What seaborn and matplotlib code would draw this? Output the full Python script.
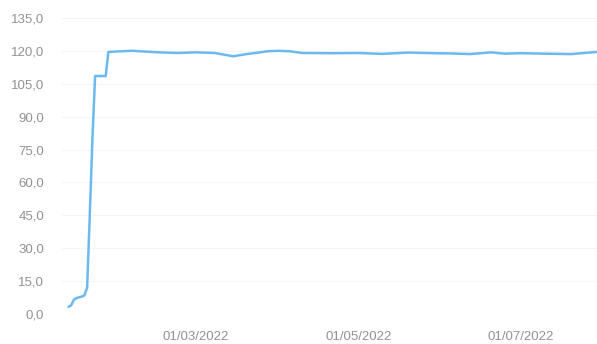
import pandas as pd
import matplotlib
matplotlib.use('Agg')
from matplotlib import pyplot as plt
import matplotlib.dates as mdates
from matplotlib.ticker import FuncFormatter, MultipleLocator
import seaborn as sns

# values
dates = ['2022-01-12', '2022-01-13', '2022-01-14', '2022-01-15', '2022-01-17',
         '2022-01-18', '2022-01-19', '2022-01-20', '2022-01-21', '2022-01-22',
         '2022-01-26', '2022-01-27', '2022-02-05', '2022-02-15', '2022-02-22',
         '2022-03-01', '2022-03-08', '2022-03-15', '2022-03-20', '2022-03-25',
         '2022-03-28', '2022-04-01', '2022-04-05', '2022-04-10', '2022-04-20',
         '2022-05-01', '2022-05-10', '2022-05-20', '2022-05-30', '2022-06-05',
         '2022-06-12', '2022-06-20', '2022-06-25', '2022-07-01', '2022-07-10',
         '2022-07-20', '2022-07-25', '2022-07-30']
values = [3.3, 4.0, 6.5, 7.3, 8.0,
          8.5, 12.0, 45.0, 80.0, 108.5,
          108.5, 119.5, 120.0, 119.3, 119.0,
          119.3, 119.0, 117.5, 118.5, 119.3,
          119.8, 120.0, 119.8, 119.0, 118.9,
          119.0, 118.6, 119.2, 118.9, 118.8,
          118.5, 119.3, 118.7, 118.9, 118.7,
          118.5, 119.0, 119.5]
tick_dates = ['2022-03-01', '2022-05-01', '2022-07-01']

df = pd.DataFrame({'date': pd.to_datetime(dates), 'value': values})

sns.set_style('white')
plt.rcParams['font.family'] = ['Liberation Sans', 'DejaVu Sans']

fig = plt.figure(figsize=(5.97, 3.44), dpi=100)
ax = fig.add_axes([0.104, 0.087, 0.896, 0.861])

sns.lineplot(data=df, x='date', y='value', ax=ax, color='#6cb9ef', linewidth=1.8)

ax.set_ylim(0, 135)
ax.yaxis.set_major_locator(MultipleLocator(15))
ax.yaxis.set_major_formatter(FuncFormatter(lambda v, p: f'{v:.1f}'.replace('.', ',')))
ax.set_xlim(pd.Timestamp('2022-01-09 14:00'), pd.Timestamp('2022-07-29 20:00'))
ax.set_xticks(pd.to_datetime(tick_dates))
ax.xaxis.set_major_formatter(mdates.DateFormatter('%d/%m/%Y'))

# grid is barely visible in the original
ax.grid(axis='y', color='#f5f5f5', linewidth=0.8)
ax.set_axisbelow(True)
for s in ax.spines.values():
    s.set_visible(False)
ax.tick_params(axis='y', length=0, pad=13, labelsize=9.5, labelcolor='#929292')
ax.tick_params(axis='x', length=0, pad=12, labelsize=9.5, labelcolor='#929292')
ax.set_xlabel('')
ax.set_ylabel('')

fig.savefig('out.png', dpi=100)
